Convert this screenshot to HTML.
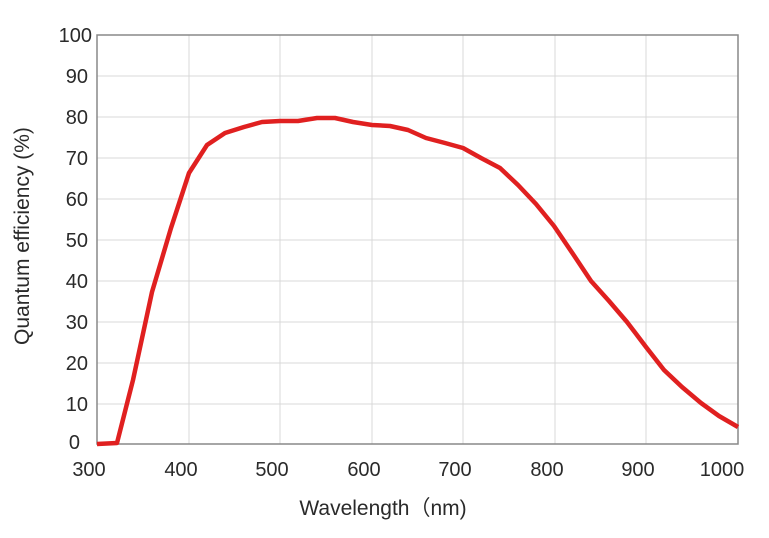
<!DOCTYPE html>
<html><head><meta charset="utf-8"><style>
html,body{margin:0;padding:0;background:#fff;}
svg text{font-family:"Liberation Sans","Noto Sans CJK JP",sans-serif;fill:#2a2a2a;}
</style></head><body>
<svg width="769" height="533" viewBox="0 0 769 533" xmlns="http://www.w3.org/2000/svg">
<g stroke="#d9d9d9" stroke-width="1">
<line x1="97" y1="76" x2="738" y2="76"/><line x1="97" y1="117" x2="738" y2="117"/>
<line x1="97" y1="158" x2="738" y2="158"/><line x1="97" y1="199" x2="738" y2="199"/>
<line x1="97" y1="240" x2="738" y2="240"/><line x1="97" y1="281" x2="738" y2="281"/>
<line x1="97" y1="322" x2="738" y2="322"/><line x1="97" y1="363" x2="738" y2="363"/>
<line x1="97" y1="404" x2="738" y2="404"/>
<line x1="189" y1="35" x2="189" y2="444"/><line x1="280" y1="35" x2="280" y2="444"/>
<line x1="372" y1="35" x2="372" y2="444"/><line x1="463" y1="35" x2="463" y2="444"/>
<line x1="555" y1="35" x2="555" y2="444"/><line x1="646" y1="35" x2="646" y2="444"/>
</g>
<rect x="97" y="35" width="641" height="409" fill="none" stroke="#888" stroke-width="1.5"/>
<polyline fill="none" stroke="#e02020" stroke-width="4.5" stroke-linejoin="round" points="97,444 117,443 133,380 152,292 171,228 189,173 207,145 225,133 244,127 262,122 280,121 298,121 317,118 335,118 353,122 372,125 390,126 408,130 426,138 445,143 463,148 481,158 500,168 518,185 536,204 554,226 573,254 591,281 609,301 627,322 646,347 664,370 682,387 701,403 719,416 738,427"/>
<g font-size="20" text-anchor="end">
<text x="92" y="42">100</text><text x="88" y="83">90</text><text x="88" y="124">80</text>
<text x="88" y="165">70</text><text x="88" y="206">60</text><text x="88" y="247">50</text>
<text x="88" y="288">40</text><text x="88" y="329">30</text><text x="88" y="370">20</text>
<text x="88" y="411">10</text><text x="80" y="449">0</text>
</g>
<g font-size="20" text-anchor="middle">
<text x="89" y="476">300</text><text x="181" y="476">400</text><text x="272" y="476">500</text>
<text x="364" y="476">600</text><text x="455" y="476">700</text><text x="547" y="476">800</text>
<text x="638" y="476">900</text><text x="722" y="476">1000</text>
</g>
<g font-size="21" text-anchor="middle">
<text x="383" y="515">Wavelength（nm)</text>
<text transform="translate(29,236) rotate(-90)">Quantum efficiency (%)</text>
</g>
</svg>
</body></html>
